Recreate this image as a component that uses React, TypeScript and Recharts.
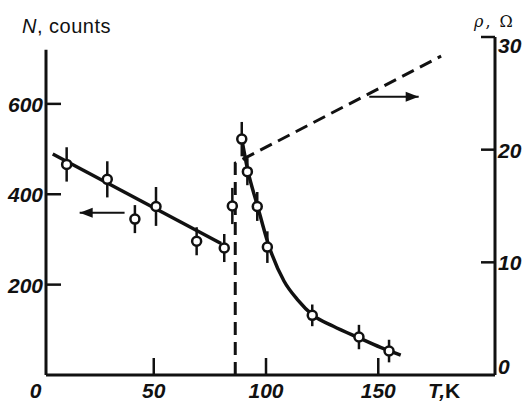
import React from 'react';
import { ComposedChart, Line, Scatter, ErrorBar, XAxis, YAxis, ReferenceLine } from 'recharts';

// Temperature (K) axis
const tempDomain = [2, 202];
const tempTicks = [0, 50, 100, 150];

// Counts axis (left)
const countDomain = [0, 748];
const countTicks = [200, 400, 600];
const countAxisTop = 720;

// Resistance axis (right)
const rhoDomain = [0, 30];
const rhoTicks = [0, 10, 20, 30];

// Measured counts with error bars
const countPoints = [
  { T: 11.2, N: 466, err: 38 },
  { T: 29.3, N: 433, err: 40 },
  { T: 41.6, N: 345, err: 31 },
  { T: 51.0, N: 373, err: 43 },
  { T: 69.1, N: 296, err: 31 },
  { T: 81.4, N: 281, err: 31 },
  { T: 85.0, N: 374, err: 40 },
  { T: 89.2, N: 522, err: 38 },
  { T: 91.7, N: 450, err: 30 },
  { T: 96.1, N: 373, err: 32 },
  { T: 100.6, N: 283, err: 35 },
  { T: 120.6, N: 132, err: 24 },
  { T: 141.4, N: 84, err: 27 },
  { T: 154.8, N: 53, err: 25 },
];

// Solid fit below Tc
const lowFit = [
  { T: 5, N: 489 },
  { T: 80, N: 291 },
];

// Solid curve above Tc
const highFit = [
  { T: 89.2, N: 522 },
  { T: 92, N: 450 },
  { T: 96, N: 378 },
  { T: 101, N: 290 },
  { T: 108, N: 208 },
  { T: 114, N: 167 },
  { T: 121, N: 132 },
  { T: 130, N: 108 },
  { T: 141, N: 83 },
  { T: 151, N: 61 },
  { T: 160, N: 44 },
];

// Resistance (dashed)
const rhoLine = [
  { T: 86.3, rho: 0 },
  { T: 86.3, rho: 18.8 },
  { T: 178, rho: 28.3 },
];

// Arrows pointing to the axis each curve belongs to
const countArrow = [
  { T: 37, N: 359 },
  { T: 17, N: 359 },
];
const rhoArrow = [
  { T: 146, rho: 24.7 },
  { T: 168, rho: 24.7 },
];

const INK = '#111';
const tickFont = { fontFamily: "'Liberation Sans', Arial, sans-serif", fontSize: 21, fontWeight: 700, fontStyle: 'italic' as const };

const LeftTick = ({ x, y, payload }: any) => (
  <g>
    <line x1={x} x2={x + 15} y1={y} y2={y} stroke={INK} strokeWidth={2.5} />
    <text x={x - 3} y={y} dy={8} textAnchor="end" fill={INK} {...tickFont}>
      {payload.value}
    </text>
  </g>
);

const RightTick = ({ x, y, payload }: any) => {
  let dy = 8;
  if (payload.value === rhoDomain[1]) dy = 16;
  if (payload.value === rhoDomain[0]) dy = -1;
  return (
    <g>
      {payload.value !== rhoDomain[0] && (
        <line x1={x} x2={x - 14} y1={y} y2={y} stroke={INK} strokeWidth={2.5} />
      )}
      <text x={x + 3} y={y} dy={dy} textAnchor="start" fill={INK} {...tickFont}>
        {payload.value}
      </text>
    </g>
  );
};

const BottomTick = ({ x, y, payload }: any) => (
  <g>
    {payload.value > tempDomain[0] && (
      <line x1={x} x2={x} y1={y} y2={y - 17} stroke={INK} strokeWidth={2.5} />
    )}
    <text x={payload.value === 0 ? x - 6 : x} y={y} dy={23} textAnchor="middle" fill={INK} {...tickFont}>
      {payload.value}
    </text>
  </g>
);

const arrowHead = (dir: number) => (props: any) => {
  const { cx, cy, index } = props;
  if (index !== 1) return <g key={`a${index}`} />;
  const len = 13;
  const half = 5;
  return (
    <polygon
      key={`a${index}`}
      points={`${cx},${cy} ${cx - dir * len},${cy - half} ${cx - dir * len},${cy + half}`}
      fill={INK}
    />
  );
};

const OpenCircle = (props: any) => (
  <circle cx={props.cx} cy={props.cy} r={4.5} fill="#fff" stroke={INK} strokeWidth={2.5} />
);

const App: React.FC = () => {
  return (
    <div style={{ position: 'absolute', left: 0, top: 0, background: '#fff' }}>
      <ComposedChart width={528} height={404} margin={{ top: 37, right: 5, bottom: 4, left: 6 }}>
        <XAxis
          dataKey="T"
          type="number"
          domain={tempDomain}
          ticks={tempTicks}
          interval={0}
          allowDataOverflow
          height={25}
          tickSize={0}
          tickMargin={0}
          tickLine={false}
          axisLine={{ stroke: INK, strokeWidth: 3 }}
          tick={<BottomTick />}
        />
        <YAxis
          yAxisId="left"
          dataKey="N"
          type="number"
          domain={countDomain}
          ticks={countTicks}
          interval={0}
          width={40}
          tickSize={0}
          tickMargin={0}
          tickLine={false}
          axisLine={false}
          tick={<LeftTick />}
        />
        <YAxis
          yAxisId="right"
          orientation="right"
          dataKey="rho"
          type="number"
          domain={rhoDomain}
          ticks={rhoTicks}
          interval={0}
          width={28}
          tickSize={0}
          tickMargin={0}
          tickLine={false}
          axisLine={{ stroke: INK, strokeWidth: 3 }}
          tick={<RightTick />}
        />
        <ReferenceLine
          yAxisId="left"
          segment={[
            { x: tempDomain[0], y: countDomain[0] },
            { x: tempDomain[0], y: countAxisTop },
          ]}
          stroke={INK}
          strokeWidth={3}
        />
        <Line
          yAxisId="right"
          data={rhoLine}
          dataKey="rho"
          type="linear"
          stroke={INK}
          strokeWidth={3}
          strokeDasharray="13 7"
          dot={false}
          isAnimationActive={false}
        />
        <Line
          yAxisId="left"
          data={lowFit}
          dataKey="N"
          type="linear"
          stroke={INK}
          strokeWidth={3.5}
          dot={false}
          isAnimationActive={false}
        />
        <Line
          yAxisId="left"
          data={highFit}
          dataKey="N"
          type="monotone"
          stroke={INK}
          strokeWidth={3.5}
          dot={false}
          isAnimationActive={false}
        />
        <Line
          yAxisId="left"
          data={countArrow}
          dataKey="N"
          type="linear"
          stroke={INK}
          strokeWidth={2}
          dot={arrowHead(-1)}
          isAnimationActive={false}
        />
        <Line
          yAxisId="right"
          data={rhoArrow}
          dataKey="rho"
          type="linear"
          stroke={INK}
          strokeWidth={2}
          dot={arrowHead(1)}
          isAnimationActive={false}
        />
        <Scatter
          yAxisId="left"
          data={countPoints}
          dataKey="N"
          shape={<OpenCircle />}
          isAnimationActive={false}
        >
          <ErrorBar dataKey="err" direction="y" width={0} stroke={INK} strokeWidth={2.5} />
        </Scatter>
        <text x={22} y={33} fill={INK} fontFamily="'Liberation Sans', Arial, sans-serif" fontSize={20} letterSpacing={0.5}>
          <tspan fontStyle="italic">N</tspan>, counts
        </text>
        <text x={474} y={27} fill={INK} fontFamily="'DejaVu Serif', serif" fontSize={16} letterSpacing={2}>
          <tspan fontStyle="italic">ρ</tspan>, Ω
        </text>
        <text x={428} y={398} fill={INK} {...tickFont}>
          T,<tspan fontStyle="normal">K</tspan>
        </text>
      </ComposedChart>
    </div>
  );
};

export default App;
